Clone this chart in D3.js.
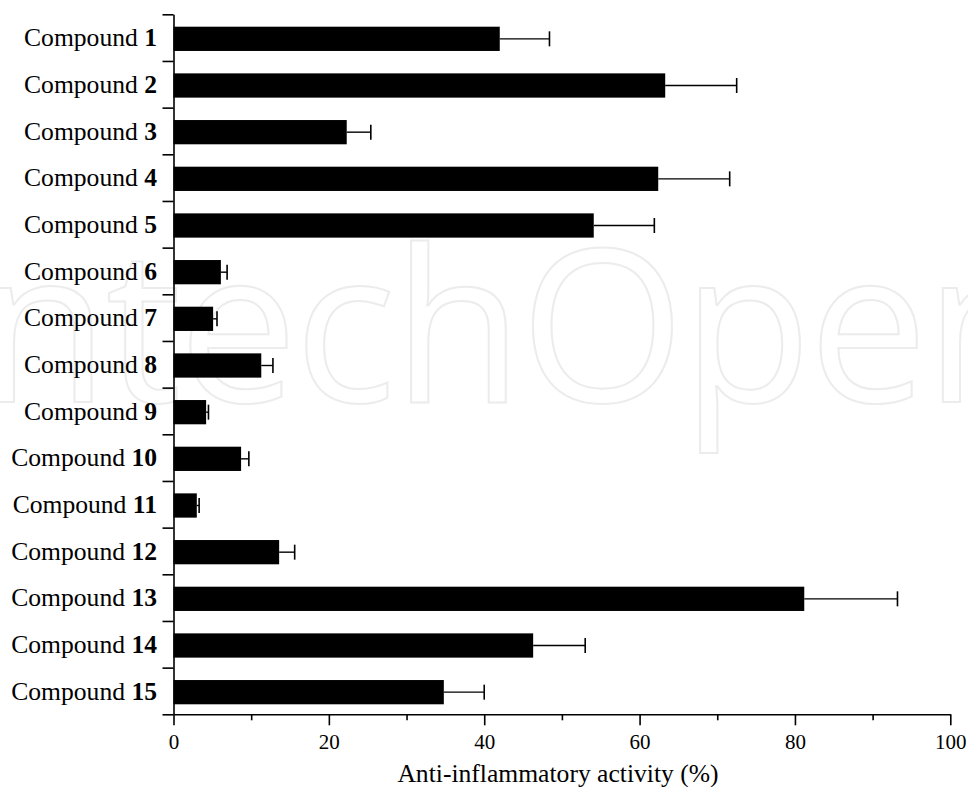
<!DOCTYPE html>
<html>
<head>
<meta charset="utf-8">
<script src="https://cdn.jsdelivr.net/npm/d3@7"></script>
<style>
  html, body { margin: 0; padding: 0; background: #fff; }
  svg { display: block; }
</style>
</head>
<body>
<svg id="chart" width="968" height="787"></svg>
<script>
// Compound numbers (drawn bold after the word "Compound")
const compounds = ["1", "2", "3", "4", "5", "6", "7", "8", "9", "10", "11", "12", "13", "14", "15"];
// Mean anti-inflammatory activity (%)
const activity = [42.0, 63.3, 22.3, 62.4, 54.1, 6.1, 5.1, 11.3, 4.2, 8.7, 3.0, 13.6, 81.2, 46.3, 34.8];
// Error (one-sided, drawn to the right of each bar)
const errors = [6.4, 9.2, 3.1, 9.2, 7.8, 0.8, 0.5, 1.5, 0.3, 1.0, 0.3, 2.0, 12.0, 6.7, 5.2];
// Axis ticks
const majorTicks = [0, 20, 40, 60, 80, 100];
const minorTicks = [10, 30, 50, 70, 90];
const xTitle = "Anti-inflammatory activity (%)";
const prefix = "Compound";
const watermarkText = "IntechOpen";

const svg = d3.select("#chart");
const W = 968, H = 787;
const margin = { left: 173.5, right: 17.7, top: 14.3, bottom: 72.7 };
const plotW = W - margin.left - margin.right;
const plotH = H - margin.top - margin.bottom;

const serif = "'Liberation Serif', 'Times New Roman', Times, serif";

// Faint outlined publisher watermark behind the chart
const wm = svg.append("text")
  .attr("x", 0)
  .attr("y", 402)
  .attr("font-family", "'Open Sans', 'DejaVu Sans', sans-serif")
  .attr("font-size", 212)
  .attr("letter-spacing", -3)
  .attr("fill", "none")
  .attr("stroke", "#ececec")
  .attr("stroke-width", 2)
  .text(watermarkText);
try {
  const hx = wm.node().getStartPositionOfChar(5).x;
  wm.attr("x", 393 - hx);
} catch (e) {}

const g = svg.append("g").attr("transform", `translate(${margin.left},${margin.top})`);

const x = d3.scaleLinear().domain([0, 100]).range([0, plotW]);
const y = d3.scaleBand().domain(compounds).range([1.2, plotH + 1.2]).paddingInner(0.48).paddingOuter(0.24);
// Boundaries between categories, used for the left-axis tick marks
const yEdge = d3.scaleLinear().domain([0, compounds.length]).range([0, plotH]);

// Bars
g.selectAll("rect.bar")
  .data(compounds)
  .join("rect")
  .attr("class", "bar")
  .attr("x", x(0))
  .attr("y", d => y(d))
  .attr("width", (d, i) => x(activity[i]) - x(0))
  .attr("height", y.bandwidth())
  .attr("fill", "#000");

// Error bars: whisker + end cap
const eb = g.selectAll("g.err")
  .data(compounds)
  .join("g")
  .attr("class", "err");
eb.append("line")
  .attr("x1", (d, i) => x(activity[i]))
  .attr("x2", (d, i) => x(activity[i] + errors[i]))
  .attr("y1", d => y(d) + y.bandwidth() / 2)
  .attr("y2", d => y(d) + y.bandwidth() / 2)
  .attr("stroke", "#000").attr("stroke-width", 1.4);
eb.append("line")
  .attr("x1", (d, i) => x(activity[i] + errors[i]))
  .attr("x2", (d, i) => x(activity[i] + errors[i]))
  .attr("y1", d => y(d) + y.bandwidth() / 2 - 7.5)
  .attr("y2", d => y(d) + y.bandwidth() / 2 + 7.5)
  .attr("stroke", "#000").attr("stroke-width", 1.6);

// Left axis: line with ticks at category boundaries
const yAxis = g.append("g")
  .call(d3.axisLeft(yEdge)
    .tickValues(d3.range(compounds.length + 1))
    .tickSize(11)
    .tickSizeOuter(0)
    .tickFormat(""));
yAxis.selectAll("path, line").attr("stroke", "#000").attr("stroke-width", 1.6);

// Category labels: "Compound" regular + bold number
const labels = g.selectAll("text.cat")
  .data(compounds)
  .join("text")
  .attr("class", "cat")
  .attr("x", -16.5)
  .attr("y", d => yEdge(compounds.indexOf(d) + 0.5))
  .attr("dy", "0.34em")
  .attr("text-anchor", "end")
  .attr("font-family", serif)
  .attr("font-size", 25.6)
  .attr("fill", "#000");
labels.append("tspan").text(prefix + " ");
labels.append("tspan").attr("font-weight", "bold").text(d => d);

// Bottom axis: major ticks with labels, minor ticks without
const xAxis = g.append("g")
  .attr("transform", `translate(0,${plotH})`)
  .call(d3.axisBottom(x).tickValues(majorTicks).tickSize(11).tickSizeOuter(0).tickPadding(0).tickFormat(d3.format("d")));
xAxis.selectAll("path, line").attr("stroke", "#000").attr("stroke-width", 1.6);
xAxis.selectAll("text")
  .attr("font-family", serif)
  .attr("font-size", 21)
  .attr("fill", "#000")
  .attr("y", 35)
  .attr("dy", 0);

const xMinor = g.append("g")
  .attr("transform", `translate(0,${plotH})`)
  .call(d3.axisBottom(x).tickValues(minorTicks).tickSize(6).tickSizeOuter(0).tickFormat(""));
xMinor.select("path").remove();
xMinor.selectAll("line").attr("stroke", "#000").attr("stroke-width", 1.6);

// Axis title
svg.append("text")
  .attr("x", 558)
  .attr("y", 781.5)
  .attr("text-anchor", "middle")
  .attr("font-family", serif)
  .attr("font-size", 25.6)
  .attr("fill", "#000")
  .text(xTitle);
</script>
</body>
</html>
